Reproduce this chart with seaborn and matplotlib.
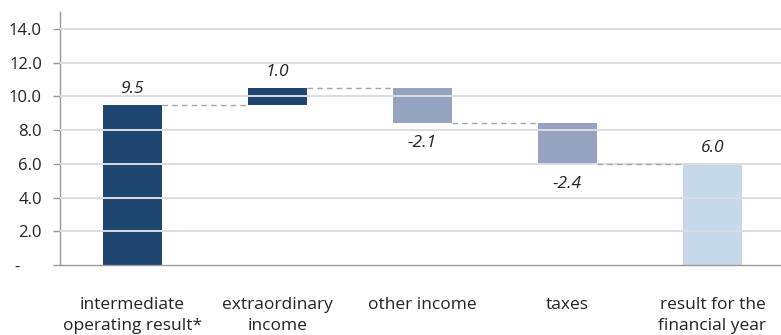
import matplotlib
matplotlib.use("Agg")
import matplotlib.pyplot as plt
import seaborn as sns
import pandas as pd
import numpy as np

categories = ["intermediate\noperating result*", "extraordinary\nincome", "other income",
              "taxes", "result for the\nfinancial year"]
changes = [9.5, 1.0, -2.1, -2.4, 6.0]
is_total = [True, False, False, False, True]
value_labels = ["9.5", "1.0", "-2.1", "-2.4", "6.0"]
colors = ["#1f4571", "#1f4571", "#95a3c1", "#95a3c1", "#c5d9ea"]
ytick_vals = [0, 2, 4, 6, 8, 10, 12, 14]
ytick_labels = ["-     ", "2.0", "4.0", "6.0", "8.0", "10.0", "12.0", "14.0"]

# compute waterfall bottoms/heights
bottoms, heights, ends = [], [], []
running = 0.0
for v, tot in zip(changes, is_total):
    if tot:
        b, h = 0.0, v
        running = v
    else:
        if v >= 0:
            b, h = running, v
        else:
            b, h = running + v, -v
        running = running + v
    bottoms.append(b)
    heights.append(h)
    ends.append(running)

df = pd.DataFrame({"cat": categories, "height": heights, "bottom": bottoms})

sns.set_theme(style="white")
plt.rcParams["font.family"] = ["Open Sans", "DejaVu Sans"]

fig = plt.figure(figsize=(7.81, 3.35), dpi=100)
ax = fig.add_axes([60 / 781, 70 / 335, 725 / 781, 252.8 / 335])

BW = 0.41
for i in range(len(categories)):
    sns.barplot(data=df.iloc[[i]], x="cat", y="height", order=categories,
                color=colors[i], bottom=float(df["bottom"].iloc[i]), width=BW,
                ax=ax, saturation=1, linewidth=0)

ax.set_xlim(-0.5, 4.5)
ax.set_ylim(0, 15)

# gridlines drawn over bars
for y in ytick_vals[1:]:
    ax.axhline(y, color="#dcdce3", lw=1.4, zorder=3)

# connectors
hw = BW / 2
for i in range(len(changes) - 1):
    ax.plot([i + hw, i + 1 - hw], [ends[i], ends[i]], ls=(0, (4, 3)), color="#a6a6a6",
            lw=1.0, zorder=4)

# value labels
for i, (v, tot) in enumerate(zip(changes, is_total)):
    top = bottoms[i] + heights[i]
    if v >= 0:
        ax.annotate(value_labels[i], (i, top), xytext=(0, 5.5), textcoords="offset points",
                    ha="center", va="bottom", fontsize=12.5, style="italic", color="#222222")
    else:
        ax.annotate(value_labels[i], (i, bottoms[i]), xytext=(0, -8.5), textcoords="offset points",
                    ha="center", va="top", fontsize=12.5, style="italic", color="#222222")

ax.set_yticks(ytick_vals)
ax.set_yticklabels(ytick_labels, fontsize=12, color="#222222")
ax.set_xticks(range(len(categories)))
ax.set_xticklabels(categories, fontsize=12.5, color="#222222", linespacing=1.4)
ax.set_xticks(np.arange(-0.5, 5, 1.0), minor=True)
ax.tick_params(axis="x", which="major", length=0, pad=23)
ax.tick_params(axis="x", which="minor", length=5, width=1, color="#9a9a9a", direction="out")
ax.tick_params(axis="y", which="major", length=5, width=1, color="#9a9a9a", direction="out",
               left=True, pad=8)
ax.set_xlabel("")
ax.set_ylabel("")
for s in ["top", "right"]:
    ax.spines[s].set_visible(False)
for s in ["left", "bottom"]:
    ax.spines[s].set_color("#9a9a9a")
    ax.spines[s].set_linewidth(1.0)
ax.grid(False)

fig.savefig("out.png", dpi=100)
